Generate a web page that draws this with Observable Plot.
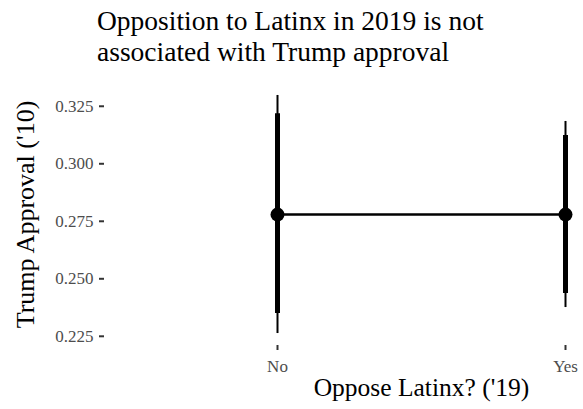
<!DOCTYPE html>
<html>
<head>
<meta charset="utf-8">
<script src="https://cdn.jsdelivr.net/npm/d3@7"></script>
<script src="https://cdn.jsdelivr.net/npm/@observablehq/plot@0.6"></script>
<style>
  html, body { margin: 0; padding: 0; background: #fff; }
  #wrap { position: relative; width: 583px; height: 409px; overflow: hidden; }
  #title { position: absolute; left: 97px; top: 5px; font-size: 27.5px; line-height: 31px; color: #000; z-index: 2; white-space: nowrap; }
  #chart { position: absolute; left: 0; top: 0; }
  #chart svg { max-width: none !important; }
  g[aria-label="x-axis label"] { font-size: 25.5px; fill: #000; }
  g[aria-label="y-axis label"] { font-size: 26px; fill: #000; }
</style>
</head>
<body>
<div id="wrap">
  <div id="title" style="font-family: 'Liberation Serif', 'Times New Roman', serif;">Opposition to Latinx in 2019 is not<br>associated with Trump approval</div>
  <div id="chart"></div>
</div>
<script>
const categories = ["No", "Yes"];
const estimate = [0.2779, 0.2779];
const lower95 = [0.2262, 0.2375];
const upper95 = [0.3297, 0.3184];
const lowerInner = [0.2349, 0.2436];
const upperInner = [0.3218, 0.3123];
const yTicks = [0.225, 0.250, 0.275, 0.300, 0.325];
const xLabel = "Oppose Latinx? ('19)";
const yLabel = "Trump Approval ('10)";

const data = categories.map((c, i) => ({
  cat: c, est: estimate[i], lo: lower95[i], hi: upper95[i], lo2: lowerInner[i], hi2: upperInner[i]
}));

const chart = Plot.plot({
  width: 745,
  height: 409,
  marginLeft: 104,
  marginRight: 7,
  marginTop: 83,
  marginBottom: 64,
  style: { fontFamily: "'Liberation Serif', 'Times New Roman', serif", fontSize: "17px", background: "white", maxWidth: "none" },
  x: { type: "point", domain: categories, padding: 0.6 },
  y: { domain: [0.2210, 0.3349] },
  marks: [
    Plot.axisY({ ticks: yTicks, tickFormat: d3.format(".3f"), tickSize: 5, tickPadding: 6,
      color: "#4d4d4d", stroke: "#333", strokeWidth: 2, label: null }),
    Plot.axisY({ ticks: [], label: yLabel, labelArrow: false, labelAnchor: "center", labelOffset: 89 }),
    Plot.axisX({ tickSize: 5, tickPadding: 9, color: "#4d4d4d", stroke: "#333", strokeWidth: 2, label: null }),
    Plot.axisX({ ticks: [], label: xLabel, labelArrow: false, labelAnchor: "center", labelOffset: 50 }),
    Plot.ruleX(data, { x: "cat", y1: "lo", y2: "hi", strokeWidth: 2, stroke: "black" }),
    Plot.ruleX(data, { x: "cat", y1: "lo2", y2: "hi2", strokeWidth: 5, stroke: "black" }),
    Plot.line(data, { x: "cat", y: "est", strokeWidth: 2.5, stroke: "black" }),
    Plot.dot(data, { x: "cat", y: "est", r: 7, fill: "black", stroke: "none" })
  ]
});
document.getElementById("chart").appendChild(chart);
</script>
</body>
</html>
